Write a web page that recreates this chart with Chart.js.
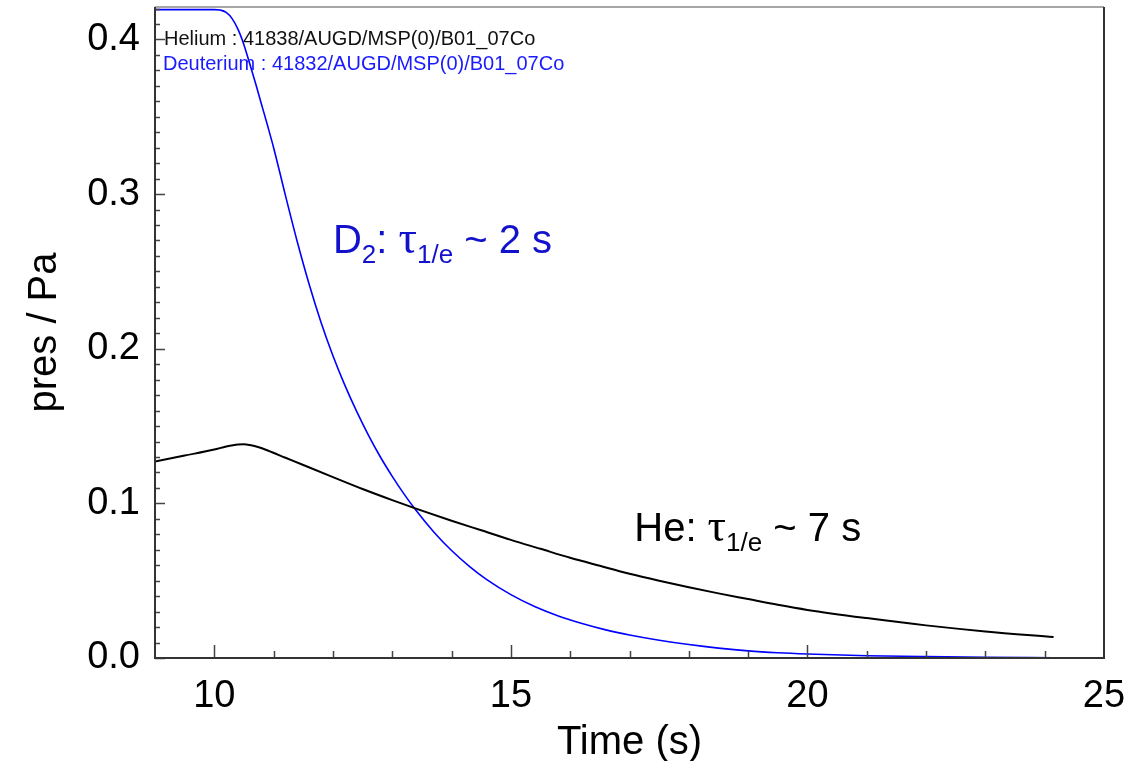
<!DOCTYPE html>
<html>
<head>
<meta charset="utf-8">
<title>pres / Pa</title>
<script src="https://cdn.jsdelivr.net/npm/chart.js@4.4.1/dist/chart.umd.min.js"></script>
<style>
  html, body { margin: 0; padding: 0; background: #fff; }
  #wrap { width: 1135px; height: 761px; }
</style>
</head>
<body>
<div id="wrap"><canvas id="pressureChart"></canvas></div>
<script>
// values (time in s, pressure in Pa)
const timeHe = [9.0, 9.5, 10.0, 10.2, 10.4, 10.5, 10.6, 10.75, 10.9, 11.2, 11.5, 12.0, 12.5, 13.0, 13.4, 14.0, 14.5,
                15.0, 15.5, 16.0, 16.5, 17.0, 17.5, 18.0, 18.5, 19.0, 19.5, 20.0, 21.0, 22.0, 23.0, 24.15];
const presHe = [0.1270, 0.1309, 0.1348, 0.1368, 0.1381, 0.1382, 0.1377, 0.1363, 0.1342, 0.1295, 0.1248, 0.1170, 0.1093, 0.1021, 0.0966, 0.0888, 0.0826,
                0.0764, 0.0706, 0.0648, 0.0596, 0.0545, 0.0500, 0.0458, 0.0418, 0.0381, 0.0344, 0.0311, 0.0258, 0.0211, 0.0172, 0.0136];

const timeD2 = [9.0, 10.0, 10.1, 10.2, 10.3, 10.4, 10.5, 10.6, 10.7, 10.8, 10.9, 11.0, 11.2, 11.4, 11.6, 11.8,
                12.0, 12.2, 12.4, 12.6, 12.8, 13.0, 13.2, 13.4, 13.7, 14.0, 14.3, 14.6, 15.0, 15.4, 15.8,
                16.2, 16.6, 17.0, 17.5, 18.0, 18.5, 19.0, 19.5, 20.0, 21.0, 22.0, 23.0, 24.15];
const presD2 = [0.4193, 0.4193, 0.4190, 0.4175, 0.4135, 0.4065, 0.3965, 0.3840, 0.3710, 0.3575, 0.3440, 0.3300, 0.2990, 0.2690, 0.2415, 0.2170,
                0.1955, 0.1765, 0.1595, 0.1440, 0.1300, 0.1175, 0.1060, 0.0955, 0.0815, 0.0695, 0.0593, 0.0505, 0.0410, 0.0333, 0.0272,
                0.0223, 0.0182, 0.0149, 0.0115, 0.0087, 0.0064, 0.0046, 0.0034, 0.0026, 0.0015, 0.0009, 0.0005, 0.0002];

const seriesNames = ['Helium : 41838/AUGD/MSP(0)/B01_07Co', 'Deuterium : 41832/AUGD/MSP(0)/B01_07Co'];
const xTickValues = [10, 15, 20, 25];
const yTickValues = [0.0, 0.1, 0.2, 0.3, 0.4];

const SANS = '"Liberation Sans", Arial, sans-serif';
const SERIF = '"Liberation Serif", "Times New Roman", serif';

function toPoints(xs, ys) {
    return xs.map((x, i) => ({ x: x, y: ys[i] }));
}

// inward IDL-style ticks and the frame
const frameTicks = {
    id: 'frameTicks',
    afterDatasetsDraw(chart) {
        const { ctx, chartArea: a, scales: { x, y } } = chart;
        ctx.save();
        ctx.strokeStyle = '#444';
        ctx.lineWidth = 1.5;
        ctx.beginPath();
        for (let i = 0; i <= 42; i++) {
            const py = Math.round(y.getPixelForValue(i / 100)) + 0.5;
            const len = i % 10 === 0 ? 10 : 5;
            ctx.moveTo(a.left, py);
            ctx.lineTo(a.left + len, py);
        }
        for (let t = 10; t <= 24; t++) {
            const px = Math.round(x.getPixelForValue(t)) + 0.5;
            const len = t % 5 === 0 ? 13 : 7;
            ctx.moveTo(px, a.bottom);
            ctx.lineTo(px, a.bottom - len);
        }
        ctx.stroke();

        ctx.lineWidth = 1.5;
        ctx.strokeStyle = '#888';
        ctx.beginPath();
        ctx.moveTo(a.left, a.top);
        ctx.lineTo(a.right, a.top);
        ctx.stroke();

        ctx.lineWidth = 2;
        ctx.strokeStyle = '#333';
        ctx.beginPath();
        ctx.moveTo(a.left, a.top);
        ctx.lineTo(a.left, a.bottom);
        ctx.lineTo(a.right, a.bottom);
        ctx.lineTo(a.right, a.top);
        ctx.stroke();
        ctx.restore();
    }
};

function drawRich(ctx, x, y, parts, color) {
    ctx.fillStyle = color;
    ctx.textAlign = 'left';
    ctx.textBaseline = 'alphabetic';
    for (const [text, kind] of parts) {
        let dy = 0;
        ctx.font = '40px ' + SANS;
        if (kind === 'sub') { ctx.font = '26px ' + SANS; dy = 10; }
        if (kind === 'greek') ctx.font = '46px ' + SERIF;
        ctx.fillText(text, x, y + dy);
        x += ctx.measureText(text).width;
    }
}

// shot labels top-left and the decay-time notes
const notes = {
    id: 'notes',
    afterDraw(chart) {
        const { ctx, chartArea: a, scales: { x, y } } = chart;
        ctx.save();
        ctx.font = '20px ' + SANS;
        ctx.textBaseline = 'alphabetic';
        ctx.fillStyle = '#111';
        ctx.fillText(chart.data.datasets[0].label, a.left + 9, a.top + 38);
        ctx.fillStyle = '#1a1aff';
        ctx.fillText(chart.data.datasets[1].label, a.left + 8, a.top + 63);

        drawRich(ctx, x.getPixelForValue(12.0), y.getPixelForValue(0.262),
            [['D', ''], ['2', 'sub'], [': ', ''], ['\u03c4', 'greek'], ['1/e', 'sub'], [' ~ 2 s', '']], '#1212cc');
        drawRich(ctx, x.getPixelForValue(17.08), y.getPixelForValue(0.0759),
            [['He: ', ''], ['\u03c4', 'greek'], ['1/e', 'sub'], [' ~ 7 s', '']], '#000');
        ctx.restore();
    }
};

const ctx = document.getElementById('pressureChart').getContext('2d');
new Chart(ctx, {
    type: 'line',
    data: {
        datasets: [{
            label: seriesNames[0],
            data: toPoints(timeHe, presHe),
            borderColor: '#000',
            borderWidth: 2,
            pointRadius: 0,
            cubicInterpolationMode: 'monotone'
        }, {
            label: seriesNames[1],
            data: toPoints(timeD2, presD2),
            borderColor: '#0000ff',
            borderWidth: 1.6,
            pointRadius: 0,
            cubicInterpolationMode: 'monotone'
        }]
    },
    options: {
        responsive: true,
        maintainAspectRatio: false,
        animation: false,
        layout: { padding: { top: 7, right: 31, left: 0, bottom: 0 } },
        plugins: {
            legend: { display: false },
            tooltip: { enabled: false }
        },
        scales: {
            x: {
                type: 'linear',
                min: 9,
                max: 25,
                grid: { display: false, drawTicks: false },
                border: { display: false },
                afterBuildTicks: s => { s.ticks = xTickValues.map(v => ({ value: v })); },
                afterFit: s => { s.height = 103; s.paddingLeft = 0; s.paddingRight = 0; },
                ticks: {
                    color: '#000',
                    autoSkip: false,
                    maxRotation: 0,
                    padding: 20,
                    font: { family: SANS, size: 38, lineHeight: 1 }
                },
                title: {
                    display: true,
                    text: 'Time (s)',
                    color: '#000',
                    font: { family: SANS, size: 40, lineHeight: 1 },
                    padding: { top: 0, bottom: -2 }
                }
            },
            y: {
                min: 0,
                max: 0.421,
                grid: { display: false, drawTicks: false },
                border: { display: false },
                afterBuildTicks: s => { s.ticks = yTickValues.map(v => ({ value: v })); },
                afterFit: s => { s.width = 155; s.paddingTop = 0; s.paddingBottom = 0; },
                ticks: {
                    color: '#000',
                    padding: 15,
                    callback: v => v.toFixed(1),
                    font: { family: SANS, size: 38, lineHeight: 1 }
                },
                title: {
                    display: true,
                    text: 'pres / Pa',
                    color: '#000',
                    font: { family: SANS, size: 40, lineHeight: 1 },
                    padding: { top: 25, bottom: 0 }
                }
            }
        }
    },
    plugins: [frameTicks, notes]
});
</script>
</body>
</html>
